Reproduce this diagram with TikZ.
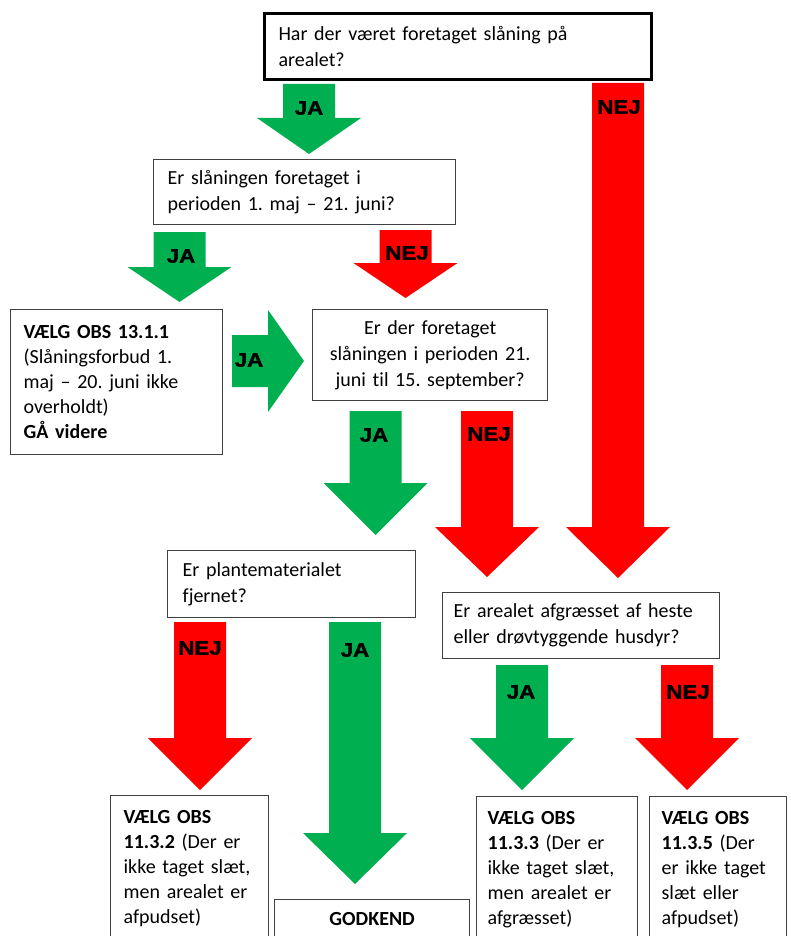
\documentclass[tikz,border=0pt]{standalone}
\usepackage{fontspec}
\setmainfont[Ligatures=NoCommon]{Carlito}
\newfontfamily\lblfont[FakeBold=1.8,FakeStretch=1.14]{Liberation Sans Bold}
\frenchspacing
\definecolor{okgreen}{HTML}{00B050}
\definecolor{nored}{HTML}{FF0000}
\definecolor{boxline}{HTML}{404040}
\newcommand{\darrow}[5]{% colour, centre x, top, head base, tip
  \fill[#1] (#2-26,#3) -- (#2+26,#3) -- (#2+26,#4) -- (#2+52,#4) -- (#2,#5)
    -- (#2-52,#4) -- (#2-26,#4) -- cycle;}
\tikzset{
  box/.style={draw=boxline, line width=1.3pt, anchor=north west, inner ysep=1pt,
    align=left, font=\fontsize{20}{26}\selectfont},
  lowbox/.style={box, font=\fontsize{20}{25}\selectfont},
  lbl/.style={font=\lblfont\fontsize{19.5}{19.5}\selectfont, inner sep=0pt},
}
\begin{document}
\begin{tikzpicture}[x=1pt,y=-1pt]
\useasboundingbox (0,0) rectangle (790,936);
\clip (0,0) rectangle (790,936);

% arrows
\darrow{okgreen}{309}{84}{118}{154}
\node[lbl] (ja1) at (309,108) {JA};
\darrow{nored}{618}{83}{527}{578}
\node[lbl] (nej1) at (619,107) {NEJ};
\darrow{okgreen}{179.5}{232}{267}{302}
\node[lbl] (ja2) at (181,256) {JA};
\darrow{nored}{405.5}{230}{263}{298}
\node[lbl] (nej2) at (407,253) {NEJ};
\fill[okgreen] (232,335) -- (268,335) -- (268,310) -- (304,361) -- (268,412)
  -- (268,387) -- (232,387) -- cycle;
\node[lbl] (ja3) at (249,360) {JA};
\darrow{okgreen}{375.5}{411}{483}{535}
\node[lbl] (ja4) at (374,435) {JA};
\darrow{nored}{487}{411}{527}{577}
\node[lbl] (nej3) at (489,434) {NEJ};
\darrow{nored}{200}{622}{738}{790}
\node[lbl] (nej4) at (200,648) {NEJ};
\darrow{okgreen}{355}{622}{833}{884}
\node[lbl] (ja5) at (355,650) {JA};
\darrow{okgreen}{522}{665}{738}{790}
\node[lbl] (ja6) at (521,692) {JA};
\darrow{nored}{687}{665}{738}{790}
\node[lbl] (nej5) at (688,692) {NEJ};

% boxes
\node[box, draw=black, line width=3pt, inner xsep=14pt, text width=359pt,
  minimum height=66pt] (q1) at (263,12)
  {\mbox{Har der været foretaget slåning på}\\\mbox{arealet?}};
\node[box, inner xsep=14pt, text width=274pt, minimum height=65pt] (q2) at (153,159)
  {\mbox{Er slåningen foretaget i}\\\mbox{perioden 1. maj – 21. juni?}};
\node[lowbox, inner xsep=13pt, text width=186pt, minimum height=145pt] (obs1) at (10,309)
  {\mbox{\bfseries VÆLG OBS 13.1.1}\\\mbox{(Slåningsforbud 1.}\\\mbox{maj – 20. juni ikke}\\\mbox{overholdt)}\\\mbox{\bfseries GÅ videre}};
\node[box, align=center, inner xsep=8pt, text width=219pt, minimum height=91pt] (q3) at (312,309)
  {\mbox{Er der foretaget}\\\mbox{slåningen i perioden 21.}\\\mbox{juni til 15. september?}};
\node[box, inner xsep=15pt, text width=218pt, minimum height=67pt] (q4) at (167,550)
  {\mbox{Er plantematerialet}\\\mbox{fjernet?}};
\node[box, inner xsep=11pt, text width=255pt, minimum height=66pt] (q5) at (442,592)
  {\mbox{Er arealet afgræsset af heste}\\\mbox{eller drøvtyggende husdyr?}};
\node[lowbox, inner xsep=13pt, text width=132pt, minimum height=146pt] (obs2) at (110,795)
  {\mbox{\bfseries VÆLG OBS}\\\mbox{\bfseries 11.3.2 \mdseries(Der er}\\\mbox{ikke taget slæt,}\\\mbox{men arealet er}\\\mbox{afpudset)}};
\node[lowbox, inner xsep=11pt, text width=139pt, minimum height=146pt] (obs3) at (476,796)
  {\mbox{\bfseries VÆLG OBS}\\\mbox{\bfseries 11.3.3 \mdseries(Der er}\\\mbox{ikke taget slæt,}\\\mbox{men arealet er}\\\mbox{afgræsset)}};
\node[lowbox, inner xsep=12pt, text width=113pt, minimum height=146pt] (obs4) at (649,796)
  {\mbox{\bfseries VÆLG OBS}\\\mbox{\bfseries 11.3.5 \mdseries(Der}\\\mbox{er ikke taget}\\\mbox{slæt eller}\\\mbox{afpudset)}};
\node[lowbox, align=center, inner xsep=8pt, text width=179pt, minimum height=39pt] (ok) at (274,899)
  {\mbox{\bfseries GODKEND}};
\end{tikzpicture}
\end{document}
